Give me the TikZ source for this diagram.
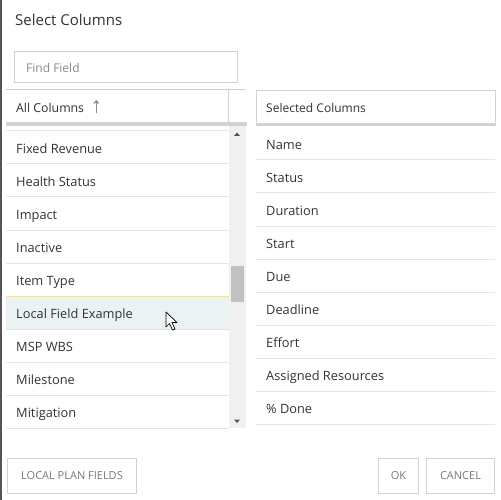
\documentclass[tikz,border=0pt]{standalone}
\usepackage{fontspec}
\setmainfont{Open Sans}
\usetikzlibrary{arrows.meta}
\usetikzlibrary{positioning}
\usepackage{xcolor}
\definecolor{txt}{HTML}{333333}
\definecolor{hint}{HTML}{8A8A8A}
\definecolor{edge}{HTML}{555555}
\definecolor{rowgray}{HTML}{E6E6E6}
\definecolor{boxgray}{HTML}{D2D2D2}
\definecolor{scrollbg}{HTML}{F0F0F0}
\definecolor{thumb}{HTML}{C1C1C1}
\definecolor{hilite}{HTML}{EAF2F4}
\definecolor{hiline}{HTML}{F2E0AA}
\definecolor{btntext}{HTML}{7A7A7A}

\begin{document}
\begin{tikzpicture}[x=1pt,y=-1pt,
    rowtext/.style={anchor=base west,text=txt,inner sep=0pt,font=\fontsize{12.8}{14}\selectfont},
    rowline/.style={draw=rowgray,line width=1pt},
    hdrbox/.style={draw=boxgray,line width=1pt,anchor=north west,inner sep=0pt},
    btn/.style={draw=boxgray,line width=1pt,anchor=north west,text=btntext,inner sep=0pt,
        minimum height=35pt,font=\fontsize{11}{12}\selectfont}]
    \useasboundingbox[fill=white] (0,0) rectangle (501,500);
    \fill[edge] (0,0) rectangle (1.5,500);

    % title and search box
    \node[anchor=base west,text=txt,inner sep=0pt,font=\fontsize{15}{17}\selectfont] (title) at (15,26) {Select Columns};
    \node[hdrbox,minimum width=223pt,minimum height=31pt] (find) at (14,51) {};
    \node[anchor=base west,text=hint,inner sep=0pt,font=\fontsize{12}{13}\selectfont] (findtext) at (26,73) {Find Field};

    % all columns header
    \draw[draw=boxgray,line width=1pt] (6,89.5) -- (246,89.5);
    \draw[draw=boxgray,line width=1pt] (228.5,89.5) -- (228.5,122);
    \fill[boxgray] (6,122) rectangle (247,126);
    \node[anchor=base west,text=txt,inner sep=0pt,font=\fontsize{12.3}{13}\selectfont] (allhdr) at (16,113) {All Columns};
    \draw[hint,line width=1.2pt,-{Straight Barb[length=2.5pt,width=4.5pt]}] ([xshift=12pt,yshift=-0.5pt]allhdr.base east) -- ([xshift=12pt,yshift=13pt]allhdr.base east);

    % selected columns header
    \node[hdrbox,minimum width=239pt,minimum height=33pt] (selhdr) at (256,90) {};
    \fill[boxgray] (256,123) rectangle (496,126);
    \node[anchor=base west,text=txt,inner sep=0pt,font=\fontsize{12}{13}\selectfont] (seltext) at (266,113) {Selected Columns};

    % all columns list
    \fill[hilite] (6,296) rectangle (229,329);
    \draw[rowline] (6,131) -- (229,131);
    \foreach \name [count=\i] in {Fixed Revenue,Health Status,Impact,Inactive,Item Type,Local Field Example,MSP WBS,Milestone,Mitigation} {
        \node[rowtext] (all\i) at (16,120.5+33*\i) {\name};
        \draw[rowline] (6,131+33*\i) -- (229,131+33*\i);
    }
    \draw[hiline,line width=1pt] (6,296) -- (229,296);
    \draw[hiline,line width=1pt] (6,329) -- (229,329);

    % scroll bar
    \fill[scrollbg] (229,126) rectangle (246,428);
    \fill[thumb] (231,266) rectangle (244,302);
    \fill[edge] (234,136) -- (240,136) -- (237,132.5) -- cycle;
    \fill[edge] (234,419.5) -- (240,419.5) -- (237,423) -- cycle;

    % selected columns list
    \foreach \name [count=\i] in {Name,Status,Duration,Start,Due,Deadline,Effort,Assigned Resources,\% Done} {
        \node[rowtext] (sel\i) at (266,116.5+33*\i) {\name};
        \draw[rowline] (256,127+33*\i) -- (495,127+33*\i);
    }

    % buttons
    \node[btn,minimum width=129pt] (localbtn) at (7,458) {LOCAL PLAN FIELDS};
    \node[btn,minimum width=40pt] (okbtn) at (378,458) {OK};
    \node[btn,minimum width=68pt] (cancelbtn) at (426,458) {CANCEL};

    % mouse pointer
    \draw[black,fill=white,line width=0.7pt,line join=round] (166,312) -- (166,327) -- (169.5,323.5) -- (172.5,330) -- (175,329) -- (172,322.5) -- (177,322.5) -- cycle;
\end{tikzpicture}
\end{document}
